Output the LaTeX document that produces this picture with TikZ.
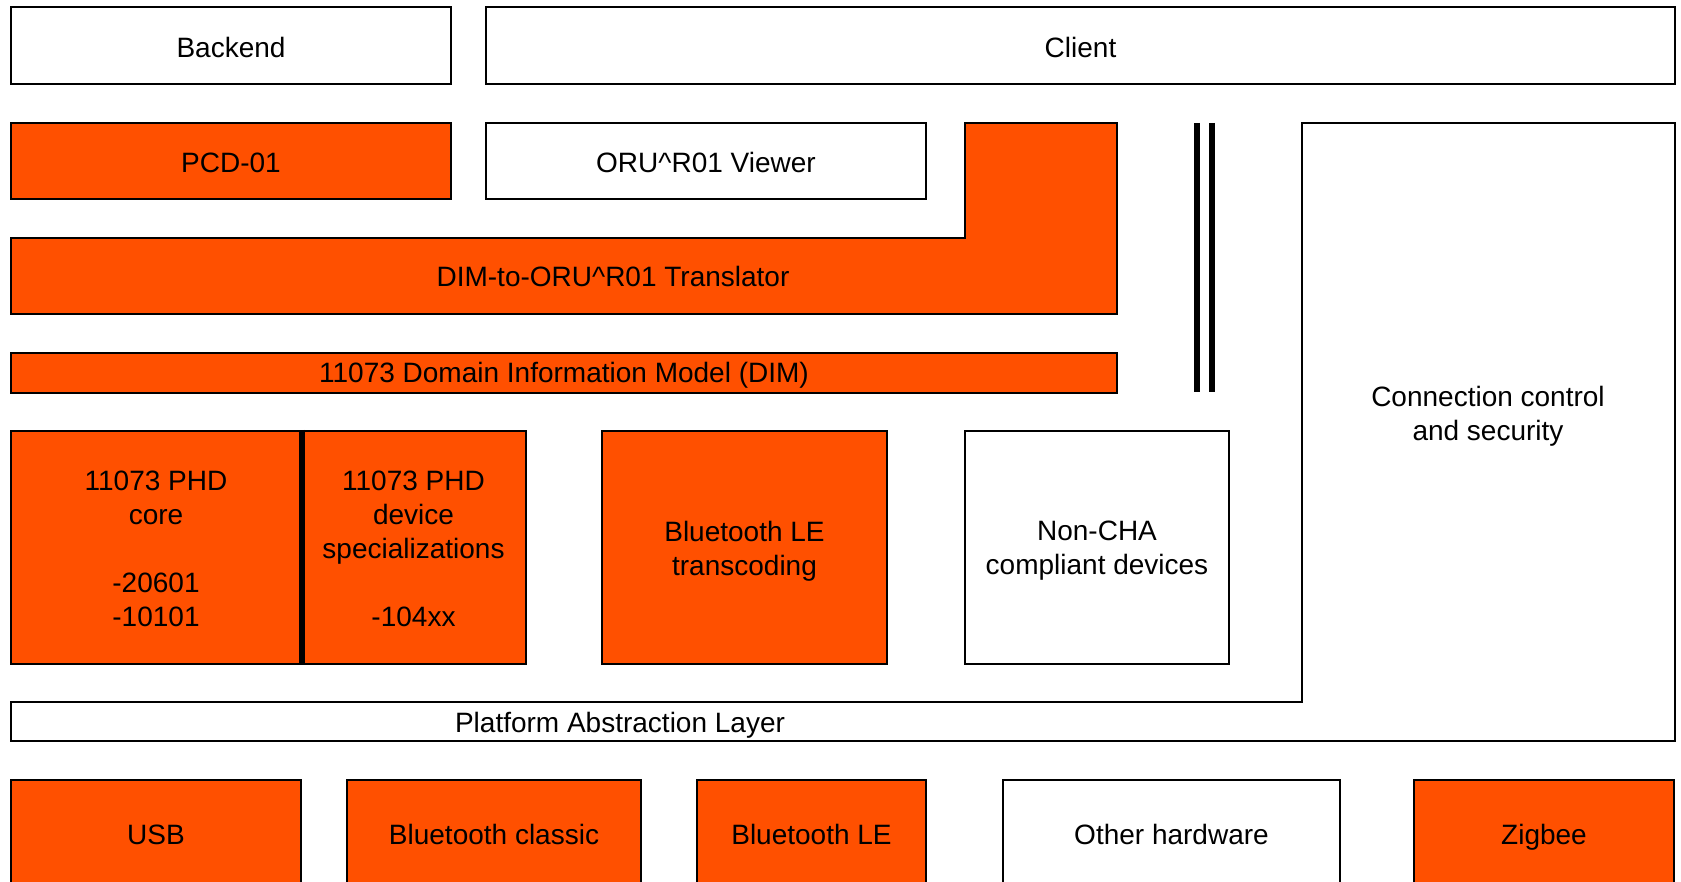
\documentclass[tikz,border=0pt]{standalone}
\usepackage{fontspec}
\setmainfont{Liberation Sans}
\usepackage{tikz}
\definecolor{chaorange}{RGB}{255,80,0}

\begin{document}
\begin{tikzpicture}[x=1pt, y=-1pt, line width=2.4pt,
		every node/.style={font=\fontsize{28}{33.8}\selectfont, align=center, inner sep=0pt},
		oneline/.style={text height=23pt, text depth=3pt},
		blk/.style={draw, fill=white, oneline},
		hot/.style={draw, fill=chaorange, oneline},
		blkm/.style={draw, fill=white},
		hotm/.style={draw, fill=chaorange}]
			\useasboundingbox (0,0) rectangle (1681,882);
			\clip (0,0) rectangle (1681,882);
			% top row
			\node[blk, text height=25pt, text depth=1pt, minimum width=440pt, minimum height=77pt] (backend) at (231,45.5) {Backend};
			\node[blk, text height=25pt, text depth=1pt, minimum width=1189pt, minimum height=77pt] (client) at (1080.5,45.5) {Client};
			\node[hot, text height=25pt, text depth=1pt, minimum width=440pt, minimum height=76pt] (pcd) at (231,161) {PCD-01};
			\node[blk, text height=25pt, text depth=1pt, minimum width=440pt, minimum height=76pt] (viewer) at (706,161) {ORU\textasciicircum R01 Viewer};
			
			% translator and DIM
			\draw[fill=chaorange] (11,238) -- (965,238) -- (965,123) -- (1117,123) -- (1117,314) -- (11,314) -- cycle;
			\node[oneline] (trans) at (613,277) {DIM-to-ORU\textasciicircum R01 Translator};
			\node[hot, minimum width=1106pt, minimum height=40pt] (dim) at (564,373) {11073 Domain Information Model (DIM)};
			\draw[line width=6.5pt] (1197,123) -- (1197,392);
			\draw[line width=6.5pt] (1212,123) -- (1212,392);
			
			% platform layer and connection control
			\draw (11,702) -- (1302,702) -- (1302,123) -- (1675,123) -- (1675,741) -- (11,741) -- cycle;
			\node[oneline] (pal) at (620,722) {Platform Abstraction Layer};
			\node (conn) at (1488,416) {Connection control\\and security};
			
			% middle row
			\node[hotm, minimum width=290pt, minimum height=233pt] (core) at (156,547.5) {};
			\node at ([yshift=-1.5pt]core.center) {11073 PHD\\core\\[34pt]-20601\\-10101};
			\node[hotm, minimum width=225pt, minimum height=233pt] (spec) at (413.5,547.5) {};
			\node at ([yshift=-1.5pt]spec.center) {11073 PHD\\device\\specializations\\[34pt]-104xx};
			\draw[line width=6.5pt] (core.north east) -- (core.south east);
			\node[hotm, minimum width=285pt, minimum height=233pt] (bletrans) at (744.5,547.5) {};
			\node at ([yshift=-3.5pt]bletrans.center) {Bluetooth LE\\transcoding};
			\node[blkm, minimum width=264pt, minimum height=233pt] (nocha) at (1097,547.5) {};
			\node at ([yshift=-3.5pt]nocha.center) {Non-CHA\\compliant devices};
			
			% hardware row
			\foreach \nm/\cx/\w/\fc/\txt in {usb/156/290/chaorange/USB, btc/494/294/chaorange/Bluetooth classic, ble/811.5/229/chaorange/Bluetooth LE, other/1171.5/337/white/Other hardware, zigbee/1544/260/chaorange/Zigbee}
				{\node[draw, fill=\fc, oneline, minimum width=\w pt, minimum height=108pt] (\nm) at (\cx,834) {\txt};}
		\end{tikzpicture}
\end{document}
